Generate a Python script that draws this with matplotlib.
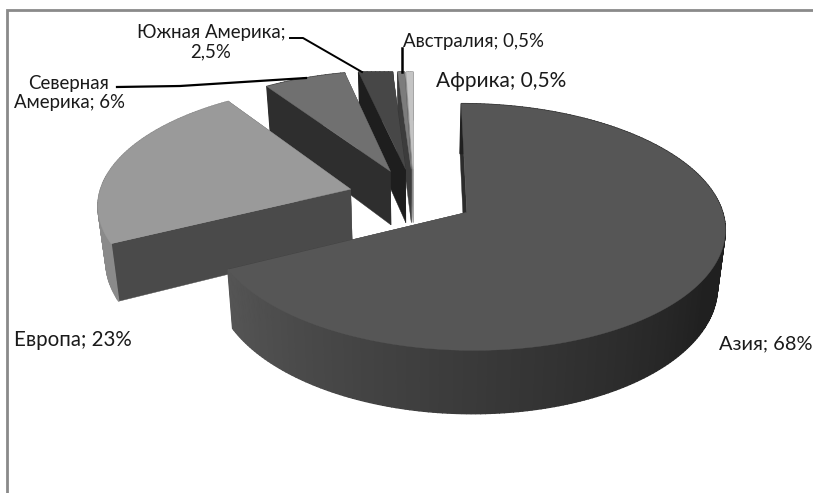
import numpy as np
import matplotlib
matplotlib.use("Agg")
import matplotlib.pyplot as plt
from matplotlib.patches import Polygon

plt.rcParams['font.family'] = ['Lato', 'Open Sans', 'DejaVu Sans']

regions = ["Азия", "Европа", "Северная Америка", "Южная Америка", "Австралия", "Африка"]
shares = [68, 23, 6, 2.5, 0.5, 0.5]
top_colors = ["#565656", "#9a9a9a", "#707070", "#474747", "#7c7c7c", "#c4c4c4"]
wall_colors = ["#2c2c2c", "#4a4a4a", "#2e2e2e", "#1e1e1e", "#3c3c3c", "#8c8c8c"]
explode = [0.243, 0.262, 0.243, 0.243, 0.243, 0.243]
label_texts = ["Азия; 68%", "Европа; 23%", "Северная\nАмерика; 6%", "Южная Америка;\n2,5%",
               "Австралия; 0,5%", "Африка; 0,5%"]

CX, CY, RX, RY, K, DEPTH = 414, 197, 252, 118, 0.117, 55
CONVERGE = 0.00046
CLIP_TOP = 72

fig = plt.figure(figsize=(8.13, 4.93), dpi=100)
ax = fig.add_axes([0, 0, 1, 1])
ax.set_xlim(0, 813)
ax.set_ylim(493, 0)
ax.axis("off")


def project(X, Y, z=0.0):
    s = 1 / (1 + K * Y)
    x = CX + RX * X * s
    x = x + (CX - x) * CONVERGE * z
    return np.column_stack([x, np.maximum(CY - RY * Y * s, CLIP_TOP) + z * s])


def lerp_gray(t):
    a = np.array([0x58, 0x58, 0x58]) / 255
    b = np.array([0x20, 0x20, 0x20]) / 255
    return tuple(a + (b - a) * t)


fractions = np.array(shares) / sum(shares) * 2 * np.pi
ends = np.cumsum(fractions)
starts = ends - fractions

for i in range(len(shares) - 1, -1, -1):
    t0, t1 = starts[i], ends[i]
    mid = (t0 + t1) / 2
    ox, oy = explode[i] * np.sin(mid), explode[i] * np.cos(mid)
    th = np.linspace(t0, t1, max(int((t1 - t0) * 60), 4))
    X = ox + np.sin(th)
    Y = oy + np.cos(th)
    top = project(X, Y)
    bot = project(X, Y, DEPTH)
    apex_t = project(np.array([ox]), np.array([oy]))
    apex_b = project(np.array([ox]), np.array([oy]), DEPTH)

    # radial walls
    for ed_t, ed_b in ((top[0], bot[0]), (top[-1], bot[-1])):
        ax.add_patch(Polygon([apex_t[0], ed_t, ed_b, apex_b[0]], closed=True,
                             fc=wall_colors[i], ec=wall_colors[i], lw=0.3))
    # outer wall, shaded along the arc
    for j in range(len(th) - 1):
        if i == 0:
            shade = np.clip((np.radians(250) - th[j]) / np.radians(130), 0, 1)
            color = lerp_gray(shade)
        elif i == 1:
            color = "#8a8a8a"
        else:
            color = wall_colors[i]
        ax.add_patch(Polygon([top[j], top[j + 1], bot[j + 1], bot[j]], closed=True,
                             fc=color, ec=color, lw=1.0))
    # top face
    ax.add_patch(Polygon(np.vstack([apex_t, top]), closed=True,
                         fc=top_colors[i], ec=top_colors[i], lw=0.3))

# chart frame
ax.plot([7, 7, 813], [493, 10, 10], color="#8a8a8a", lw=2, solid_joinstyle="miter")

# leader lines
ax.plot([117, 180, 306], [87, 86, 78], color="black", lw=1.6)
ax.plot([290, 303, 362], [38, 38, 72], color="black", lw=1.4)
ax.plot([402, 402], [48, 72], color="black", lw=1.8)

# labels
txt = dict(color="#1a1a1a", va="center")
ax.text(719, 344, label_texts[0], fontsize=14.4, ha="left", **txt)
ax.text(14, 340, label_texts[1], fontsize=14.8, ha="left", **txt)
ax.text(69, 93, label_texts[2], fontsize=13.4, ha="center", linespacing=1.2, **txt)
ax.text(211, 42, label_texts[3], fontsize=13.4, ha="center", linespacing=1.2, **txt)
ax.text(403, 42, label_texts[4], fontsize=13.4, ha="left", **txt)
ax.text(436, 81, label_texts[5], fontsize=15, ha="left", **txt)

fig.savefig("out.png", dpi=100, facecolor="white")
